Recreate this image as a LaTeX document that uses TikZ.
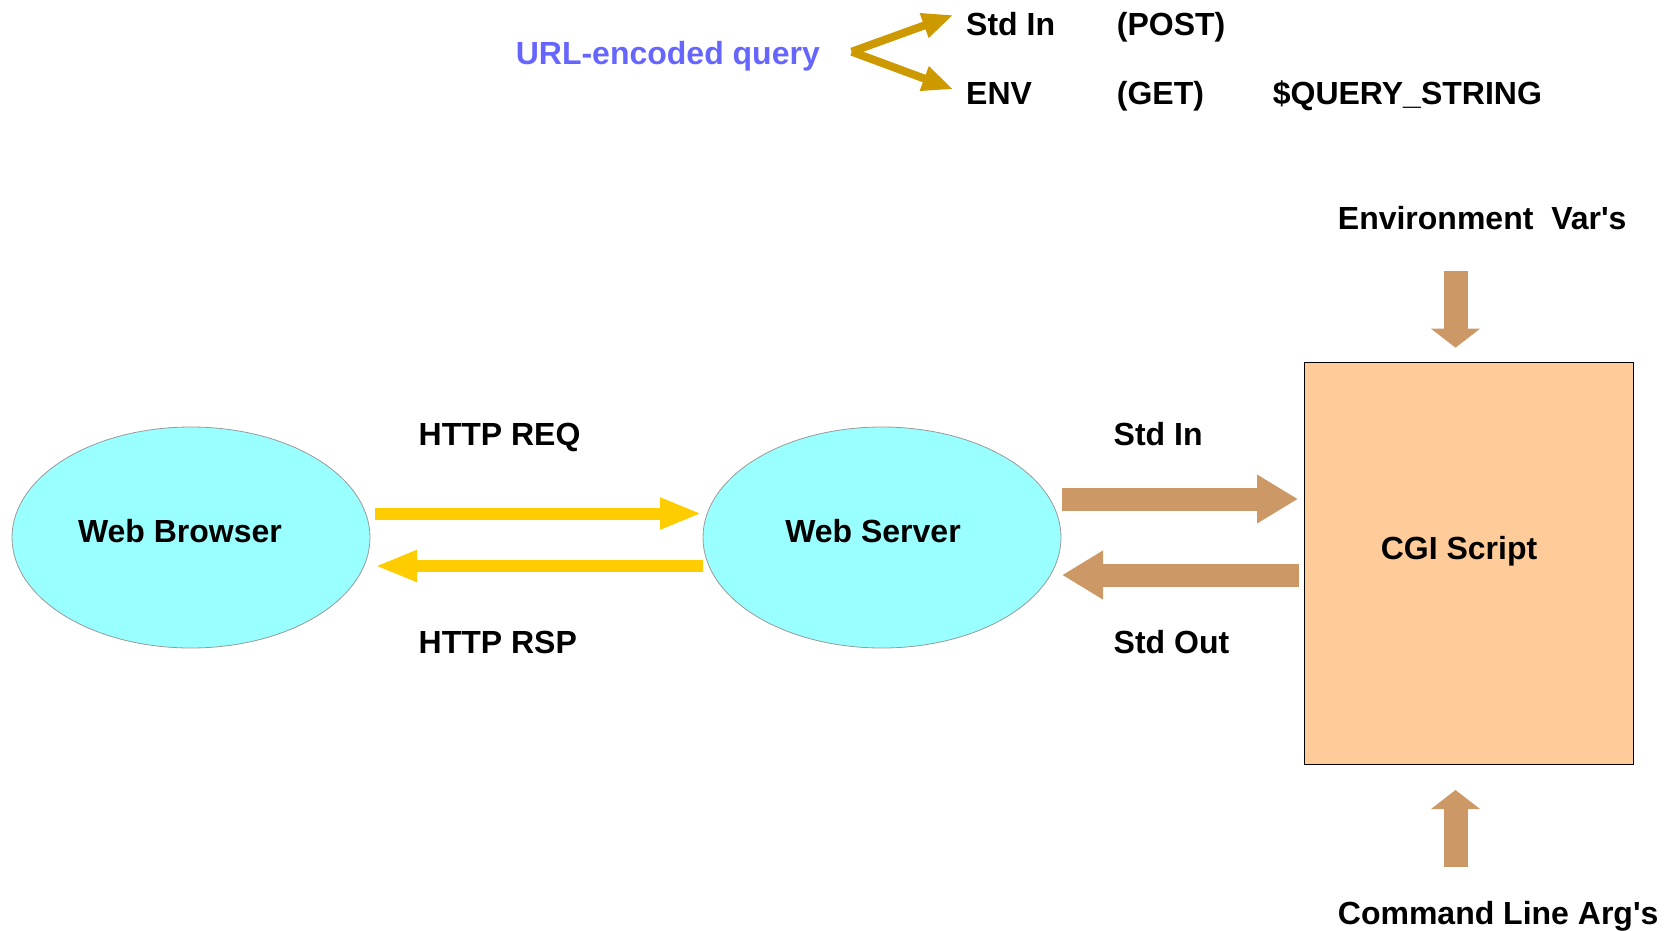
\documentclass[tikz,border=0pt]{standalone}
\usepackage{fontspec}
\setmainfont{Liberation Sans}
\usetikzlibrary{shapes.geometric,arrows.meta}
\definecolor{cyanfill}{HTML}{99FFFF}
\definecolor{boxfill}{HTML}{FFCC99}
\definecolor{yel}{HTML}{FFCC00}
\definecolor{brn}{HTML}{CC9966}
\definecolor{gold}{HTML}{CC9900}
\definecolor{blu}{HTML}{6666FF}
\begin{document}
\begin{tikzpicture}[x=1pt,y=-1pt,
  lbl/.style={font=\fontsize{32}{38}\selectfont\bfseries, inner sep=0pt, anchor=base west},
  ctr/.style={font=\fontsize{32}{38}\selectfont\bfseries, inner sep=0pt, anchor=base},
  oval/.style={ellipse, draw=black!40, line width=0.8pt, fill=cyanfill, minimum width=358pt, minimum height=221pt, inner sep=0pt},
  yarrow/.style={draw=yel, line width=12pt, -{Triangle[length=42pt,width=29pt]}},
  barrow/.style={draw=brn, line width=23pt, -{Triangle[length=41pt,width=46pt]}},
  varrow/.style={draw=brn, line width=24pt, -{Triangle[length=19pt,width=48pt]}},
  garrow/.style={draw=gold, line width=8pt, -{Triangle[length=31pt,width=24pt]}}]
\useasboundingbox (0,0) rectangle (1674,930);
% ovals
\node[oval] (wb) at (191,537.5) {};
\node[oval] (ws) at (882,537.5) {};
\node[ctr] (wbt) at (180,542) {Web Browser};
\node[ctr] (wst) at (873,542) {Web Server};
% CGI box
\node[draw=black, line width=1pt, fill=boxfill, minimum width=328.8pt, minimum height=402.4pt, inner sep=0pt] (cgi) at (1469,563.2) {};
\node[ctr] (cgit) at (1459,559) {CGI Script};
% yellow arrows
\coordinate (reqa) at (375,513.5); \coordinate (reqb) at (702,513.5);
\coordinate (rspa) at (703,566); \coordinate (rspb) at (375,566);
\draw[yarrow] (reqa) -- (reqb);
\draw[yarrow] (rspa) -- (rspb);
% brown arrows
\coordinate (sia) at (1061.7,499); \coordinate (sib) at (1298,499);
\coordinate (soa) at (1299,575); \coordinate (sob) at (1062,575);
\draw[barrow] (sia) -- (sib);
\draw[barrow] (soa) -- (sob);
\coordinate (eva) at (1455.5,271); \coordinate (evb) at (1455.5,347.7);
\coordinate (cla) at (1455.5,866.7); \coordinate (clb) at (1455.5,790);
\draw[varrow] (eva) -- (evb);
\draw[varrow] (cla) -- (clb);
% labels
\node[lbl] (req) at (418.5,445) {HTTP REQ};
\node[lbl] (rsp) at (418.5,653) {HTTP RSP};
\node[lbl] (si) at (1113.5,445) {Std In};
\node[lbl] (so) at (1113.5,653) {Std Out};
\node[lbl] (env) at (1337.7,229.3) {Environment\ \ Var\textquotesingle s};
\node[lbl] (clt) at (1337.7,924.3) {Command Line Arg\textquotesingle s};
% top
\node[lbl, text=blu] (url) at (515.6,64.9) {URL-encoded query};
\coordinate (gs) at (851.7,51.7);
\coordinate (gt1) at (953.3,15);
\coordinate (gt2) at (953.3,89.3);
\draw[garrow] (gs) -- (gt1);
\draw[garrow] (gs) -- (gt2);
\node[lbl] (tsi) at (966,35) {Std In};
\node[lbl] (post) at (1116.7,35) {(POST)};
\node[lbl] (tenv) at (966,104.4) {ENV};
\node[lbl] (get) at (1116.7,104.4) {(GET)};
\node[lbl] (qs) at (1272.6,104.4) {\$QUERY\_STRING};
\end{tikzpicture}
\end{document}
